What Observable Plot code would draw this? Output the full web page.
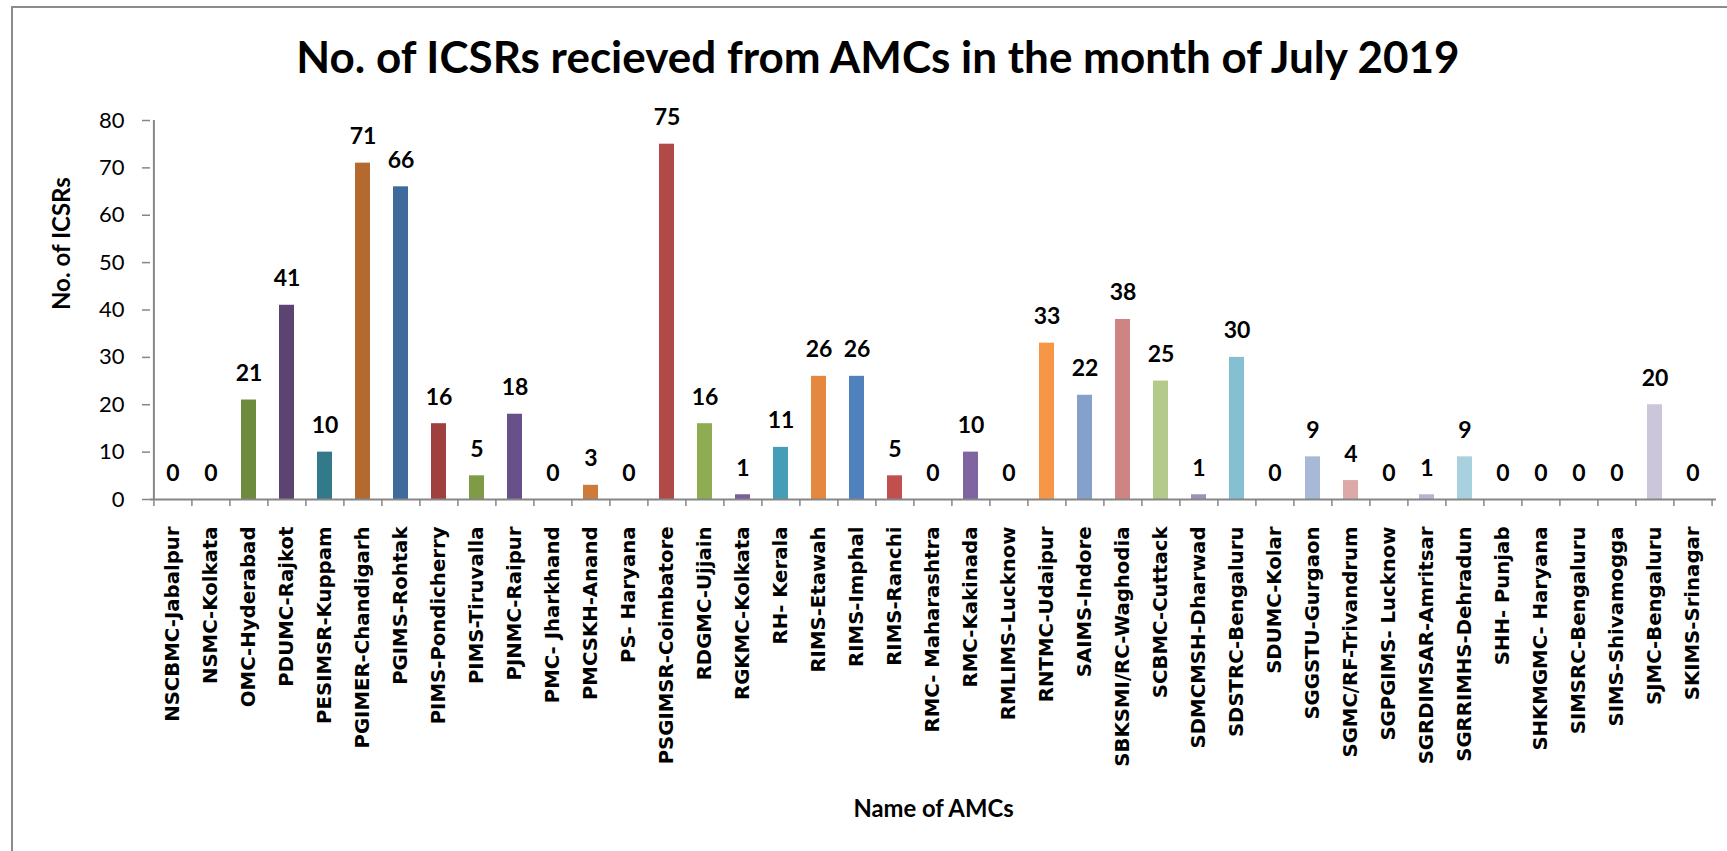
<!DOCTYPE html>
<html>
<head>
<meta charset="utf-8">
<script src="https://cdn.jsdelivr.net/npm/d3@7"></script>
<script src="https://cdn.jsdelivr.net/npm/@observablehq/plot@0.6"></script>
<style>
  html, body { margin: 0; padding: 0; background: #fff; overflow: hidden; width: 1727px; height: 851px; }
  #frame { position: absolute; left: 11px; top: 6px; width: 1800px; height: 1000px; border: 2px solid #8c8c8c; }
  #title { position: absolute; left: 0; top: 34px; width: 1756px; text-align: center;
           font-family: Lato, sans-serif; font-weight: bold; font-size: 44px; line-height: 44px; color: #000; white-space: nowrap; }
  #chart { position: absolute; left: 0; top: 100px; }
</style>
</head>
<body>
<div id="frame"></div>
<div id="title"></div>
<div id="chart"></div>
<script>
// ---- data ----
const names = [
  "NSCBMC-Jabalpur", "NSMC-Kolkata", "OMC-Hyderabad", "PDUMC-Rajkot", "PESIMSR-Kuppam",
  "PGIMER-Chandigarh", "PGIMS-Rohtak", "PIMS-Pondicherry", "PIMS-Tiruvalla", "PJNMC-Raipur",
  "PMC- Jharkhand", "PMCSKH-Anand", "PS- Haryana", "PSGIMSR-Coimbatore", "RDGMC-Ujjain",
  "RGKMC-Kolkata", "RH- Kerala", "RIMS-Etawah", "RIMS-Imphal", "RIMS-Ranchi",
  "RMC- Maharashtra", "RMC-Kakinada", "RMLIMS-Lucknow", "RNTMC-Udaipur", "SAIMS-Indore",
  "SBKSMI/RC-Waghodia", "SCBMC-Cuttack", "SDMCMSH-Dharwad", "SDSTRC-Bengaluru", "SDUMC-Kolar",
  "SGGSTU-Gurgaon", "SGMC/RF-Trivandrum", "SGPGIMS- Lucknow", "SGRDIMSAR-Amritsar", "SGRRIMHS-Dehradun",
  "SHH- Punjab", "SHKMGMC- Haryana", "SIMSRC-Bengaluru", "SIMS-Shivamogga", "SJMC-Bengaluru",
  "SKIMS-Srinagar"
];
const values = [
  0, 0, 21, 41, 10,
  71, 66, 16, 5, 18,
  0, 3, 0, 75, 16,
  1, 11, 26, 26, 5,
  0, 10, 0, 33, 22,
  38, 25, 1, 30, 0,
  9, 4, 0, 1, 9,
  0, 0, 0, 0, 20,
  0
];
const yTicks = [0, 10, 20, 30, 40, 50, 60, 70, 80];
const title = "No. of ICSRs recieved from AMCs in the month of July 2019";
const yLabel = "No. of ICSRs";
const xLabel = "Name of AMCs";

// ---- style (per-point colours, Excel "vary colours by point") ----
const palette = [
  "#3f6a9c", "#9e3f3d", "#6e8b3d", "#5c4472", "#327a8a",
  "#b46a2f", "#3f6a9c", "#9f403e", "#809b48", "#68518a",
  "#3892a9", "#cd7b38", "#4672ab", "#b14a46", "#8fac52",
  "#7b5e9b", "#459eb5", "#e3883e", "#4f81bd", "#c0504d",
  "#9bbb59", "#8064a2", "#4bacc6", "#f79646", "#86a0cc",
  "#cd8482", "#b3ca8a", "#9f8fba", "#85c0d2", "#f9b07b",
  "#a8b9d8", "#dbaaa8", "#c9d9ab", "#bcb1cf", "#a8d0de",
  "#fac7a3", "#c5cfe6", "#e6c5c4", "#dae6c8", "#ccc6da",
  "#c8e2eb"
];

const data = names.map((n, i) => ({name: n, value: values[i], color: palette[i]}));

const W = 1727, H = 751;
const mL = 150, mR = 11, mT = 20, mB = 352;
const step = (W - mL - mR) / names.length;
const axisGray = "#868686";

const chart = Plot.plot({
  width: W,
  height: H,
  marginLeft: mL,
  marginRight: mR,
  marginTop: mT,
  marginBottom: mB,
  style: {background: "transparent", overflow: "visible", color: "#000"},
  x: {domain: names, paddingInner: 0.6, paddingOuter: 0.3, axis: null},
  y: {domain: [0, 80], axis: null},
  color: {type: "identity"},
  marks: [
    Plot.barY(data, {x: "name", y: "value", fill: "color"}),
    // axis lines
    Plot.ruleY([0], {stroke: axisGray, strokeWidth: 2}),
    Plot.ruleX([names[0]], {x: d => d, dx: -step / 2, y1: 0, y2: 80, stroke: axisGray, strokeWidth: 2}),
    // category boundary ticks
    Plot.ruleX(names, {x: d => d, dx: -step / 2, y1: 0, y2: 0, insetBottom: -7, stroke: axisGray, strokeWidth: 1.5}),
    Plot.ruleX([names[names.length - 1]], {x: d => d, dx: step / 2, y1: 0, y2: 0, insetBottom: -7, stroke: axisGray, strokeWidth: 1.5}),
    Plot.axisY({ticks: yTicks, tickSize: 8, tickPadding: 18, stroke: axisGray, strokeWidth: 1.5, fill: "#000",
                fontSize: 22, fontFamily: "Lato", label: null, tickFormat: d => String(d)}),
    Plot.axisX({tickSize: 0, tickRotate: -90, tickPadding: 27, fill: "#000",
                fontSize: 19.7, fontWeight: "bold", fontFamily: "DejaVu Sans", label: null}),
    // value labels
    Plot.text(data, {x: "name", y: "value", text: d => String(d.value), lineAnchor: "bottom", dy: -19,
                     fontSize: 23, fontWeight: "bold", fontFamily: "Lato", fill: "#000"}),
    // axis titles
    Plot.text([yLabel], {frameAnchor: "left", dx: -88, rotate: -90, lineAnchor: "middle", text: d => d,
                         fontSize: 24, fontWeight: "bold", fontFamily: "Lato", fill: "#000"}),
    Plot.text([xLabel], {frameAnchor: "bottom", dy: 310, lineAnchor: "middle", text: d => d,
                         fontSize: 23.8, fontWeight: "bold", fontFamily: "Lato", fill: "#000"})
  ]
});
document.getElementById("chart").appendChild(chart);
document.getElementById("title").textContent = title;
</script>
</body>
</html>
